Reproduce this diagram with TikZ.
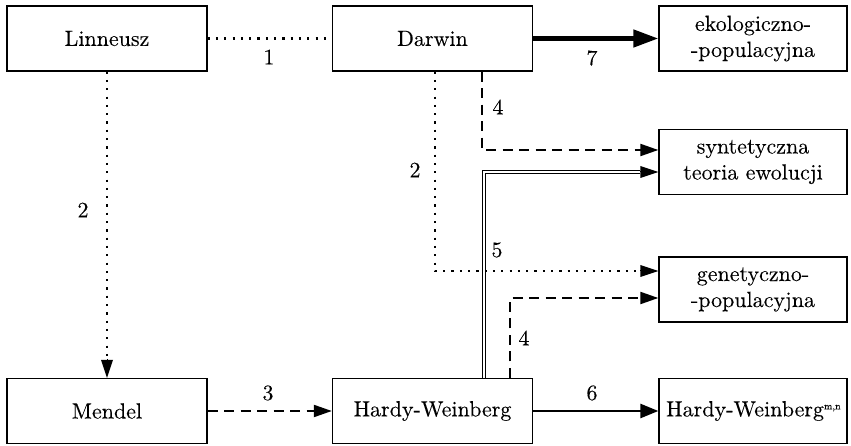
\documentclass[tikz,border=0pt]{standalone}
\usepackage{fontspec}
\setmainfont{lmroman10-regular.otf}[RawFeature={embolden=0.12}]
\usetikzlibrary{arrows.meta,calc}
\begin{document}
\begin{tikzpicture}[x=1pt,y=-1pt,
  box/.style={draw, line width=1.3pt, inner sep=0pt, align=center,
    font=\fontsize{22}{26}\selectfont},
  lbox/.style={box, minimum width=200pt, minimum height=65pt},
  rbox/.style={box, minimum width=188pt, minimum height=65pt},
  lbl/.style={font=\fontsize{22}{26}\selectfont, inner sep=0pt},
  tip/.style={-{Triangle[length=18pt,width=12pt]}},
  dotline/.style={line width=2.2pt, dash pattern=on 2.2pt off 6.1pt},
  dashline/.style={line width=2pt, dash pattern=on 10pt off 6.5pt},
  thickarrow/.style={line width=4.5pt, -{Triangle[length=25pt,width=17pt]}},
  medarrow/.style={line width=2.6pt, -{Triangle[length=18pt,width=14pt]}},
  dbl/.style={double, double distance=2.2pt, line width=1pt}
]
\useasboundingbox (0,0) rectangle (851,446);

\node[lbox] (L) at (107,38.5) {Linneusz};
\node[lbox] (D) at (432.5,38.5) {Darwin};
\node[rbox] (E) at (753,38.5) {ekologiczno-\\-populacyjna};
\node[rbox] (S) at (753,162) {syntetyczna\\teoria ewolucji};
\node[rbox] (G) at (753,289.5) {genetyczno-\\-populacyjna};
\node[lbox] (M) at (107,411) {Mendel};
\node[lbox] (H) at (432.5,411) {Hardy-Weinberg};
\node[rbox] (W) at (753,411) {};
\node[lbl, anchor=west] (Wt) at (666,411) {Hardy-Weinberg\raisebox{7pt}{\fontsize{10}{10}\selectfont m,n}};

% 1
\draw[dotline] (L.east) -- (D.west);
\node[lbl] (n1) at (269,57) {1};
% 7
\draw[thickarrow] (D.east) -- (E.west);
\node[lbl] (n7) at (592,58) {7};
% 2 left
\draw[dotline] (L.south) -- ($(M.north)+(0,-18)$);
\draw[tip, line width=0pt] ($(M.north)+(0,-18)$) -- (M.north);
\node[lbl] (n2a) at (83,210) {2};
% 2 right
\coordinate (d2s) at ($(D.south)+(2.5,0)$);
\coordinate (d2e) at ($(G.west)+(-18,-18.5)$);
\draw[dotline] (d2s) |- (d2e);
\draw[tip, line width=0pt] (d2e) -- ($(G.west)+(0,-18.5)$);
\node[lbl] (n2b) at (415,170) {2};
% 4 top
\coordinate (d4s) at ($(D.south)+(49.5,0)$);
\draw[dashline, tip] (d4s) |- ($(S.west)+(0,-12)$);
\node[lbl] (n4a) at (498,107) {4};
% 5 double
\coordinate (h5s) at ($(H.north)+(51.5,0)$);
\coordinate (h5e) at ($(S.west)+(-18,10)$);
\draw[dbl] (h5s) |- (h5e);
\draw[tip, line width=0pt] (h5e) -- ($(S.west)+(0,10)$);
\node[lbl] (n5) at (497,250) {5};
% 4 bottom
\coordinate (h4s) at ($(H.north)+(77.5,0)$);
\draw[dashline, tip] (h4s) |- ($(G.west)+(0,8.5)$);
\node[lbl] (n4b) at (524,338) {4};
% 3
\draw[dashline, tip] (M.east) -- (H.west);
\node[lbl] (n3) at (268,393) {3};
% 6
\draw[medarrow] (H.east) -- (W.west);
\node[lbl] (n6) at (592,393) {6};
\end{tikzpicture}
\end{document}
